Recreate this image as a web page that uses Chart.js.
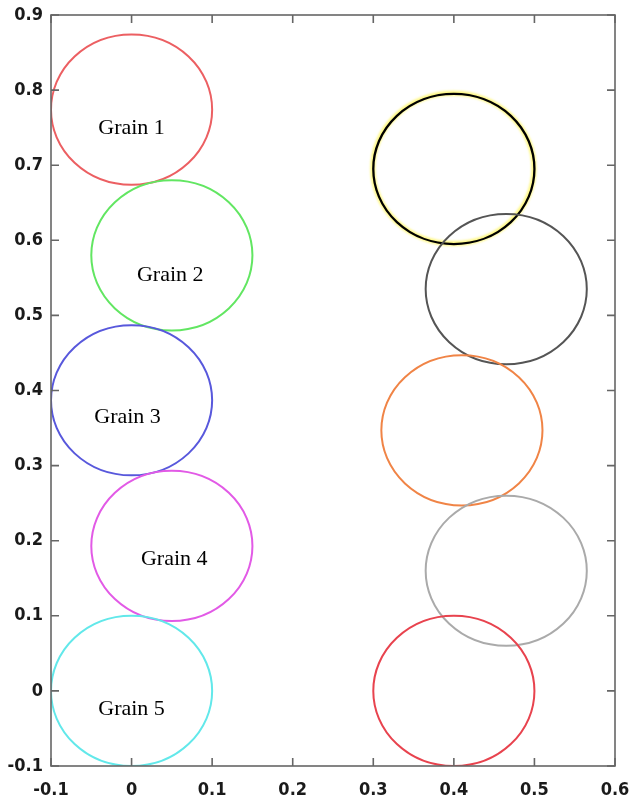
<!DOCTYPE html>
<html>
<head>
<meta charset="utf-8">
<script src="https://cdn.jsdelivr.net/npm/chart.js@4.4.1/dist/chart.umd.min.js"></script>
<style>
  html, body { margin: 0; padding: 0; background: #fff; }
  #wrap { width: 632px; height: 803px; position: relative; }
</style>
</head>
<body>
<div id="wrap"><canvas id="grainChart"></canvas></div>
<script>
// grain centres, left column (labelled) and right column
const grainNames = ['Grain 1', 'Grain 2', 'Grain 3', 'Grain 4', 'Grain 5'];
const leftX = [0, 0.05, 0, 0.05, 0];
const leftY = [0.774, 0.58, 0.387, 0.193, 0];
const rightX = [0.4, 0.465, 0.41, 0.465, 0.4];
const rightY = [0.695, 0.535, 0.347, 0.16, 0];
const grainRadius = 0.1;

// where the names sit
const labelX = [0, 0.048, -0.005, 0.053, 0];
const labelY = [0.749, 0.554, 0.365, 0.175, -0.025];

const xTicks = [-0.1, 0, 0.1, 0.2, 0.3, 0.4, 0.5, 0.6];
const yTicks = [-0.1, 0, 0.1, 0.2, 0.3, 0.4, 0.5, 0.6, 0.7, 0.8, 0.9];

const leftColors = ['#ec5f62', '#62e662', '#5858dc', '#e25ae6', '#62e8ea'];
const rightColors = ['#000000', '#555555', '#f08446', '#aaaaaa', '#e8434e'];

const datasets = [];
leftX.forEach((x, i) => {
    datasets.push({
        label: grainNames[i],
        data: [{ x: x, y: leftY[i] }],
        borderColor: leftColors[i],
        pointRadius: 0,
        glow: false
    });
});
rightX.forEach((x, i) => {
    datasets.push({
        label: 'right ' + (i + 1),
        data: [{ x: x, y: rightY[i] }],
        borderColor: rightColors[i],
        pointRadius: 0,
        glow: i === 0
    });
});

// draws each grain as a circle of grainRadius in data units
const grainCircles = {
    id: 'grainCircles',
    afterDatasetsDraw(chart) {
        const { ctx, chartArea, scales } = chart;
        ctx.save();
        ctx.beginPath();
        ctx.rect(chartArea.left, chartArea.top, chartArea.right - chartArea.left, chartArea.bottom - chartArea.top);
        ctx.clip();
        chart.data.datasets.forEach(ds => {
            const p = ds.data[0];
            const cx = scales.x.getPixelForValue(p.x);
            const cy = scales.y.getPixelForValue(p.y);
            const rx = Math.abs(scales.x.getPixelForValue(p.x + grainRadius) - cx);
            const ry = Math.abs(scales.y.getPixelForValue(p.y + grainRadius) - cy);
            if (ds.glow) {
                // soft yellow halo under the black ring
                ctx.save();
                ctx.beginPath();
                ctx.ellipse(cx - 0.5, cy - 0.5, rx, ry, 0, 0, Math.PI * 2);
                ctx.strokeStyle = 'rgba(255, 245, 90, 0.75)';
                ctx.lineWidth = 5;
                ctx.filter = 'blur(1px)';
                ctx.stroke();
                ctx.restore();
            }
            ctx.beginPath();
            ctx.ellipse(cx, cy, rx, ry, 0, 0, Math.PI * 2);
            ctx.strokeStyle = ds.borderColor;
            ctx.lineWidth = ds.glow ? 2.3 : 2;
            ctx.stroke();
        });
        ctx.restore();

        ctx.save();
        ctx.fillStyle = '#000';
        ctx.font = '22px "Liberation Serif", "Times New Roman", serif';
        ctx.textAlign = 'center';
        ctx.textBaseline = 'middle';
        grainNames.forEach((name, i) => {
            ctx.fillText(name, scales.x.getPixelForValue(labelX[i]), scales.y.getPixelForValue(labelY[i]));
        });
        ctx.restore();
    }
};

// box round the plot with inward tick marks on all four sides
const frameTicks = {
    id: 'frameTicks',
    afterDraw(chart) {
        const { ctx, chartArea, scales } = chart;
        const len = 8;
        ctx.save();
        ctx.strokeStyle = '#666';
        ctx.lineWidth = 1.6;
        ctx.strokeRect(chartArea.left, chartArea.top, chartArea.right - chartArea.left, chartArea.bottom - chartArea.top);
        ctx.beginPath();
        xTicks.forEach(v => {
            const px = scales.x.getPixelForValue(v);
            ctx.moveTo(px, chartArea.bottom);
            ctx.lineTo(px, chartArea.bottom - len);
            ctx.moveTo(px, chartArea.top);
            ctx.lineTo(px, chartArea.top + len);
        });
        yTicks.forEach(v => {
            const py = scales.y.getPixelForValue(v);
            ctx.moveTo(chartArea.left, py);
            ctx.lineTo(chartArea.left + len, py);
            ctx.moveTo(chartArea.right, py);
            ctx.lineTo(chartArea.right - len, py);
        });
        ctx.stroke();
        ctx.restore();
    }
};

const tickFont = { family: '"DejaVu Sans Condensed", "DejaVu Sans", sans-serif', size: 18, weight: 'bold' };

new Chart(document.getElementById('grainChart').getContext('2d'), {
    type: 'scatter',
    data: { datasets: datasets },
    options: {
        responsive: true,
        maintainAspectRatio: false,
        animation: false,
        layout: { padding: { top: 15, right: 17, left: 0, bottom: 0 } },
        plugins: {
            legend: { display: false },
            tooltip: { enabled: false }
        },
        scales: {
            x: {
                type: 'linear',
                min: xTicks[0],
                max: xTicks[xTicks.length - 1],
                afterBuildTicks: scale => { scale.ticks = xTicks.map(v => ({ value: v })); },
                afterFit: scale => {
                    scale.height = 37;
                    scale.paddingLeft = 0;
                    scale.paddingRight = 0;
                },
                grid: { display: false, drawTicks: false },
                border: { display: false },
                ticks: {
                    color: '#1a1a1a',
                    font: tickFont,
                    padding: 14,
                    maxRotation: 0,
                    callback: v => String(Math.round(v * 10) / 10)
                }
            },
            y: {
                type: 'linear',
                min: yTicks[0],
                max: yTicks[yTicks.length - 1],
                afterBuildTicks: scale => { scale.ticks = yTicks.map(v => ({ value: v })); },
                afterFit: scale => {
                    scale.width = 51;
                    scale.paddingTop = 0;
                    scale.paddingBottom = 0;
                },
                grid: { display: false, drawTicks: false },
                border: { display: false },
                ticks: {
                    color: '#1a1a1a',
                    font: tickFont,
                    padding: 8,
                    callback: v => String(Math.round(v * 10) / 10)
                }
            }
        }
    },
    plugins: [grainCircles, frameTicks]
});
</script>
</body>
</html>
